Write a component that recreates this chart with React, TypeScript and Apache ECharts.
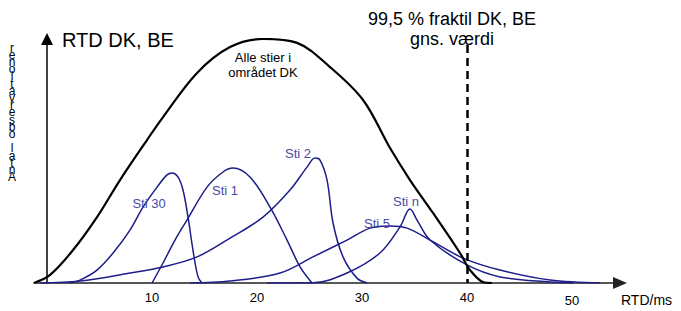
import React, { useEffect, useRef } from "react";
import * as echarts from "echarts";

// x in ms, y in relative count (0-100)
const alleX = [-1.24, 0.29, 2.48, 4.76, 6.95, 9.52, 11.05, 14.29, 17.43, 20.57, 23.81, 26.95, 30.1, 32.67, 34.57, 36.76, 39.33, 40.29, 41.52, 42.38];
const alleY = [0, 3.3, 13.5, 27.0, 42.2, 58.6, 68.0, 86.1, 96.7, 100, 98.4, 88.5, 75.0, 55.3, 42.2, 28.7, 12.3, 5.3, 0.4, 0];

const sti30X = [2.19, 3.14, 4.76, 6.29, 7.9, 9.14, 10.48, 11.43, 11.9, 12.48, 12.95, 13.43, 13.9, 14.38, 14.76];
const sti30Y = [0, 1.2, 5.3, 12.3, 21.7, 31.1, 39.3, 44.3, 45.1, 43.4, 38.1, 27.0, 13.5, 2.5, 0];

const sti1X = [10.0, 11.05, 12.19, 13.33, 15.24, 16.76, 17.71, 19.33, 21.24, 22.86, 24.1, 25.24];
const sti1Y = [0, 8.2, 17.6, 25.8, 39.3, 45.5, 47.1, 43.4, 31.1, 17.6, 6.6, 0];

const sti2X = [-0.67, 3.14, 7.9, 11.05, 14.29, 17.43, 20.57, 23.14, 24.76, 25.52, 26.0, 26.67, 27.24, 28.19, 29.52, 30.48];
const sti2Y = [0, 0.8, 4.1, 6.6, 10.7, 18.4, 27.0, 38.1, 47.5, 51.2, 50.4, 42.2, 24.6, 10.7, 2.0, 0];

const sti5X = [13.62, 17.43, 22.19, 25.33, 28.57, 30.76, 32.67, 34.29, 36.48, 39.62, 43.14, 47.9, 52.67];
const sti5Y = [0, 0.8, 4.1, 10.7, 17.6, 22.5, 23.4, 22.5, 17.6, 10.2, 5.3, 1.2, 0];

const stiNX = [20.95, 25.33, 28.57, 31.71, 33.62, 34.57, 35.24, 36.48, 40.0, 43.14, 47.9, 50.1];
const stiNY = [0, 0.1, 4.1, 12.3, 23.0, 30.3, 25.8, 17.6, 7.4, 2.5, 0.4, 0];

const xTicks = [10, 20, 30, 40, 50];
const fraktil = 40;

const FONT = "Liberation Sans, Arial, sans-serif";
const NAVY = "#1d1d8a";
const LABEL_BLUE = "#4a4aa6";

const zip = (xs: number[], ys: number[]) => xs.map((x, i) => [x, ys[i]]);

export default function App() {
  const ref = useRef<HTMLDivElement>(null);
  useEffect(() => {
    if (!ref.current) return;
    const chart = echarts.init(ref.current, undefined, { renderer: "svg" });
    const blue = (name: string, xs: number[], ys: number[]) => ({
      name,
      type: "line",
      data: zip(xs, ys),
      smooth: 0.35,
      symbol: "none",
      lineStyle: { color: NAVY, width: 1.5 },
      z: 3,
    });
    chart.setOption({
      animation: false,
      grid: { left: 34, right: 61, top: 39, bottom: 28 },
      xAxis: {
        type: "value",
        min: -1.24,
        max: 54.57,
        axisLine: {
          show: true,
          onZero: false,
          lineStyle: { color: "#222", width: 1.5 },
          symbol: ["none", "triangle"],
          symbolSize: [12, 14],
        },
        axisTick: { show: false },
        splitLine: { show: false },
        axisLabel: {
          customValues: xTicks,
          margin: 8,
          color: "#000",
          fontFamily: FONT,
          fontSize: 13,
          formatter: (v: number) => (v === 50 ? "{low|50}" : "{n|" + v + "}"),
          rich: {
            n: { fontFamily: FONT, fontSize: 13, color: "#000" },
            low: { fontFamily: FONT, fontSize: 13, color: "#000", padding: [3, 0, 0, 0] },
          },
        },
        name: "RTD/ms",
        nameLocation: "end",
        nameGap: 1,
        nameTextStyle: {
          fontFamily: FONT,
          fontSize: 14,
          color: "#000",
          align: "left",
          verticalAlign: "top",
          padding: [10, 0, 0, 0],
        },
      },
      yAxis: {
        type: "value",
        min: 0,
        max: 100,
        axisLine: {
          show: true,
          lineStyle: { color: "#000", width: 1.5 },
          symbol: ["none", "triangle"],
          symbolSize: [12, 12],
        },
        axisTick: { show: false },
        axisLabel: { show: false },
        splitLine: { show: false },
      },
      series: [
        {
          name: "Alle stier i området DK",
          type: "line",
          data: zip(alleX, alleY),
          smooth: 0.35,
          symbol: "none",
          lineStyle: { color: "#000", width: 2.2 },
          z: 4,
          markLine: {
            silent: true,
            symbol: "none",
            label: { show: false },
            lineStyle: { color: "#000", width: 2.5, type: [8, 5] },
            data: [[{ coord: [fraktil, 97.5] }, { coord: [fraktil, 0] }]],
          },
        },
        blue("Sti 30", sti30X, sti30Y),
        blue("Sti 1", sti1X, sti1Y),
        blue("Sti 2", sti2X, sti2Y),
        blue("Sti 5", sti5X, sti5Y),
        blue("Sti n", stiNX, stiNY),
      ],
      graphic: [
        {
          type: "text",
          x: 62,
          y: 40,
          style: { text: "RTD DK, BE", font: `20px ${FONT}`, fill: "#000", textVerticalAlign: "middle" },
        },
        {
          type: "text",
          x: 452,
          y: 9,
          style: {
            text: "99,5 % fraktil DK, BE\ngns. værdi",
            font: `18px ${FONT}`,
            fill: "#000",
            textAlign: "center",
            lineHeight: 20,
          },
        },
        {
          type: "text",
          x: 263,
          y: 50,
          style: {
            text: "Alle stier i\nområdet DK",
            font: `13px ${FONT}`,
            fill: "#000",
            textAlign: "center",
            lineHeight: 15,
          },
        },
        {
          type: "text",
          x: 12,
          y: 44,
          style: {
            text: "Antal observationer".split("").reverse().join("\n"),
            font: `12px ${FONT}`,
            fill: "#000",
            textAlign: "center",
            lineHeight: 7.2,
          },
        },
        ...[
          ["Sti 30", 149, 203],
          ["Sti 1", 225, 190],
          ["Sti 2", 298, 153],
          ["Sti 5", 377, 223],
          ["Sti n", 406, 201],
        ].map(([t, x, y]) => ({
          type: "text",
          x,
          y,
          z: 10,
          style: {
            text: t,
            font: `13px ${FONT}`,
            fill: LABEL_BLUE,
            textAlign: "center",
            textVerticalAlign: "middle",
          },
        })),
      ],
    });
    return () => chart.dispose();
  }, []);
  return <div ref={ref} style={{ width: 681, height: 311, position: "absolute", left: 0, top: 0 }} />;
}
